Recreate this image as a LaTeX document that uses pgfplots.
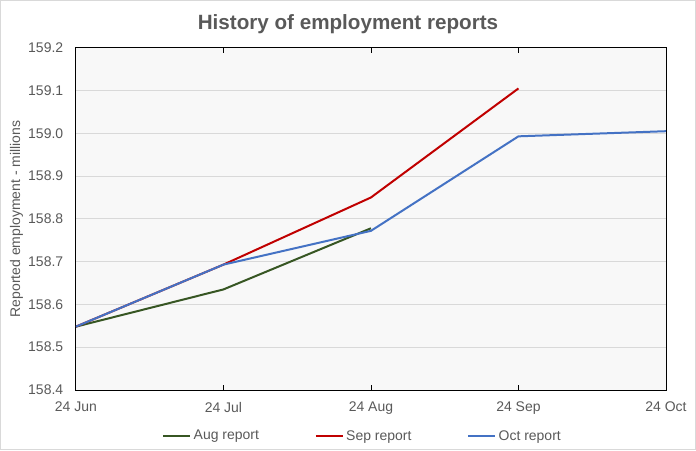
\documentclass[border=0pt]{standalone}
\usepackage{fontspec}
\setmainfont{Liberation Sans}
\usepackage{pgfplots}
\pgfplotsset{compat=1.18}

\definecolor{augcol}{HTML}{375623}
\definecolor{sepcol}{HTML}{C00000}
\definecolor{octcol}{HTML}{4472C4}
\definecolor{txtgray}{HTML}{595959}
\definecolor{gridgray}{HTML}{D9D9D9}
\definecolor{plotbg}{HTML}{F8F8F8}

\begin{document}
\begin{tikzpicture}
  % chart frame
  \draw[gridgray, line width=0.8pt] (-56.6pt,-45pt) rectangle (465.4pt,292.5pt);
  \begin{axis}[
    name=ax,
    at={(0,0)}, anchor=south west,
    scale only axis,
    width=443.25pt, height=257pt,
    xmin=0, xmax=4,
    ymin=158.4, ymax=159.2,
    xtick={0,1,2,3,4},
    xticklabels={24 Jun,24 Jul,24 Aug,24 Sep,24 Oct},
    ytick={158.4,158.5,...,159.25},
    y tick label style={/pgf/number format/fixed, /pgf/number format/fixed zerofill,
                        /pgf/number format/precision=1},
    /pgf/number format/assume math mode=true,
    ymajorgrids, major grid style={gridgray, line width=0.6pt},
    axis background/.style={fill=plotbg},
    axis line style={black, line width=0.6pt},
    tick align=inside,
    xtick style={black, line width=0.6pt},
    major tick length=4pt,
    ytick style={draw=none},
    tick label style={font=\fontsize{10.5}{12}\selectfont, text=txtgray},
    yticklabel style={xshift=-6pt},
    xticklabel style={yshift=-5.5pt},
    ylabel={Reported employment - millions},
    ylabel style={at={(axis description cs:-0.1006,0.5)}, anchor=center,
                  font=\fontsize{10.5}{12}\selectfont, text=txtgray},
    legend columns=3,
    legend style={at={(axis description cs:0.4865,-0.135)}, anchor=center,
                  draw=none, fill=none, font=\fontsize{10.5}{12}\selectfont,
                  text=txtgray, inner sep=0pt,
                  /tikz/every even column/.append style={column sep=40pt}},
    legend image code/.code={\draw[#1] (0pt,0pt) -- (20pt,0pt);},
    every axis plot/.append style={line width=1.5pt},
  ]
    \addplot[augcol] coordinates {(0,158.548) (1,158.635) (2,158.778)};
    \addplot[sepcol] coordinates {(0,158.548) (1,158.693) (2,158.850) (3,159.105)};
    \addplot[octcol] coordinates {(0,158.548) (1,158.693) (2,158.772) (3,158.993) (4,159.005)};
    \legend{Aug report, Sep report, Oct report}
  \end{axis}
  \node[font=\bfseries\fontsize{15.5}{18}\selectfont, text=txtgray] at (204.4pt,274.5pt) {History of employment reports};
\end{tikzpicture}
\end{document}
